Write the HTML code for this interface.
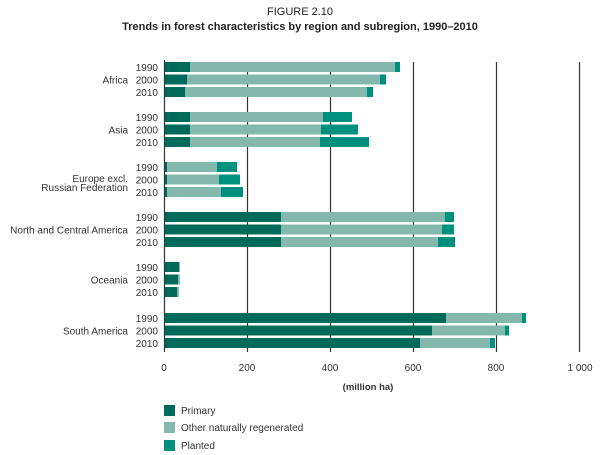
<!DOCTYPE html>
<html><head><meta charset="utf-8"><style>
html,body{margin:0;padding:0;background:#fff;}
svg{display:block;font-family:"Liberation Sans",sans-serif;}
</style></head><body>
<svg width="600" height="455" viewBox="0 0 600 455" xmlns="http://www.w3.org/2000/svg">
<text x="300" y="15" text-anchor="middle" font-size="11" fill="#222">FIGURE 2.10</text>
<text x="300" y="30" text-anchor="middle" font-size="11" font-weight="bold" fill="#222">Trends in forest characteristics by region and subregion, 1990–2010</text>
<g stroke="#333" stroke-width="1.2">
<line x1="247.5" y1="62" x2="247.5" y2="352"/>
<line x1="330.5" y1="62" x2="330.5" y2="352"/>
<line x1="413.5" y1="62" x2="413.5" y2="352"/>
<line x1="496.5" y1="62" x2="496.5" y2="352"/>
<line x1="579.5" y1="62" x2="579.5" y2="352"/>
</g>
<g id="bars">
<!-- Africa -->
<rect x="164" y="62" width="26" height="10" fill="#006b5a"/><rect x="190" y="62" width="205" height="10" fill="#84b8ad"/><rect x="395" y="62" width="5" height="10" fill="#00917e"/>
<rect x="164" y="74.5" width="23" height="10" fill="#006b5a"/><rect x="187" y="74.5" width="193" height="10" fill="#84b8ad"/><rect x="380" y="74.5" width="6" height="10" fill="#00917e"/>
<rect x="164" y="87" width="21" height="10" fill="#006b5a"/><rect x="185" y="87" width="182" height="10" fill="#84b8ad"/><rect x="367" y="87" width="6" height="10" fill="#00917e"/>
<!-- Asia -->
<rect x="164" y="112" width="26" height="10" fill="#006b5a"/><rect x="190" y="112" width="133" height="10" fill="#84b8ad"/><rect x="323" y="112" width="29" height="10" fill="#00917e"/>
<rect x="164" y="124.5" width="26" height="10" fill="#006b5a"/><rect x="190" y="124.5" width="131" height="10" fill="#84b8ad"/><rect x="321" y="124.5" width="37" height="10" fill="#00917e"/>
<rect x="164" y="137" width="26" height="10" fill="#006b5a"/><rect x="190" y="137" width="130" height="10" fill="#84b8ad"/><rect x="320" y="137" width="49" height="10" fill="#00917e"/>
<!-- Europe -->
<rect x="164" y="162" width="3" height="10" fill="#006b5a"/><rect x="167" y="162" width="50" height="10" fill="#84b8ad"/><rect x="217" y="162" width="20" height="10" fill="#00917e"/>
<rect x="164" y="174.5" width="3" height="10" fill="#006b5a"/><rect x="167" y="174.5" width="52" height="10" fill="#84b8ad"/><rect x="219" y="174.5" width="21" height="10" fill="#00917e"/>
<rect x="164" y="187" width="3" height="10" fill="#006b5a"/><rect x="167" y="187" width="54" height="10" fill="#84b8ad"/><rect x="221" y="187" width="22" height="10" fill="#00917e"/>
<!-- NCA -->
<rect x="164" y="212" width="117" height="10" fill="#006b5a"/><rect x="281" y="212" width="164" height="10" fill="#84b8ad"/><rect x="445" y="212" width="9" height="10" fill="#00917e"/>
<rect x="164" y="224.5" width="117" height="10" fill="#006b5a"/><rect x="281" y="224.5" width="161" height="10" fill="#84b8ad"/><rect x="442" y="224.5" width="12" height="10" fill="#00917e"/>
<rect x="164" y="237" width="117" height="10" fill="#006b5a"/><rect x="281" y="237" width="157" height="10" fill="#84b8ad"/><rect x="438" y="237" width="17" height="10" fill="#00917e"/>
<!-- Oceania -->
<rect x="164" y="262" width="15" height="10" fill="#006b5a"/><rect x="179" y="262" width="1" height="10" fill="#84b8ad"/>
<rect x="164" y="274.5" width="14" height="10" fill="#006b5a"/><rect x="178" y="274.5" width="2" height="10" fill="#84b8ad"/>
<rect x="164" y="287" width="13" height="10" fill="#006b5a"/><rect x="177" y="287" width="2" height="10" fill="#84b8ad"/>
<!-- South America -->
<rect x="164" y="313" width="282" height="10" fill="#006b5a"/><rect x="446" y="313" width="76" height="10" fill="#84b8ad"/><rect x="522" y="313" width="4" height="10" fill="#00917e"/>
<rect x="164" y="325.5" width="268" height="10" fill="#006b5a"/><rect x="432" y="325.5" width="73" height="10" fill="#84b8ad"/><rect x="505" y="325.5" width="4" height="10" fill="#00917e"/>
<rect x="164" y="338" width="256" height="10" fill="#006b5a"/><rect x="420" y="338" width="70" height="10" fill="#84b8ad"/><rect x="490" y="338" width="5" height="10" fill="#00917e"/>
</g>
<line x1="164.5" y1="60" x2="164.5" y2="352" stroke="#333" stroke-width="1.2"/>
<g font-size="10" fill="#333" text-anchor="end">
<text x="158" y="71">1990</text><text x="158" y="83.5">2000</text><text x="158" y="96">2010</text>
<text x="158" y="121">1990</text><text x="158" y="133.5">2000</text><text x="158" y="146">2010</text>
<text x="158" y="171">1990</text><text x="158" y="183.5">2000</text><text x="158" y="196">2010</text>
<text x="158" y="221">1990</text><text x="158" y="233.5">2000</text><text x="158" y="246">2010</text>
<text x="158" y="271">1990</text><text x="158" y="283.5">2000</text><text x="158" y="296">2010</text>
<text x="158" y="322">1990</text><text x="158" y="334.5">2000</text><text x="158" y="347">2010</text>
<text x="128" y="83.5">Africa</text>
<text x="128" y="133.5">Asia</text>
<text x="128" y="182">Europe excl.</text>
<text x="128" y="191">Russian Federation</text>
<text x="128" y="233.5">North and Central America</text>
<text x="128" y="283.5">Oceania</text>
<text x="128" y="334.5">South America</text>
</g>
<g font-size="10" fill="#333" text-anchor="middle">
<text x="164" y="371">0</text><text x="247" y="371">200</text><text x="330" y="371">400</text>
<text x="413" y="371">600</text><text x="496" y="371">800</text><text x="580" y="371">1 000</text>
<text x="368" y="390" font-weight="bold" font-size="9.5">(million ha)</text>
</g>
<rect x="164" y="405" width="11" height="11" fill="#006b5a"/>
<rect x="164" y="422" width="11" height="11" fill="#84b8ad"/>
<rect x="164" y="440" width="11" height="11" fill="#00917e"/>
<g font-size="10" fill="#333">
<text x="181" y="414">Primary</text>
<text x="181" y="431">Other naturally regenerated</text>
<text x="181" y="449">Planted</text>
</g>
</svg>
</body></html>
